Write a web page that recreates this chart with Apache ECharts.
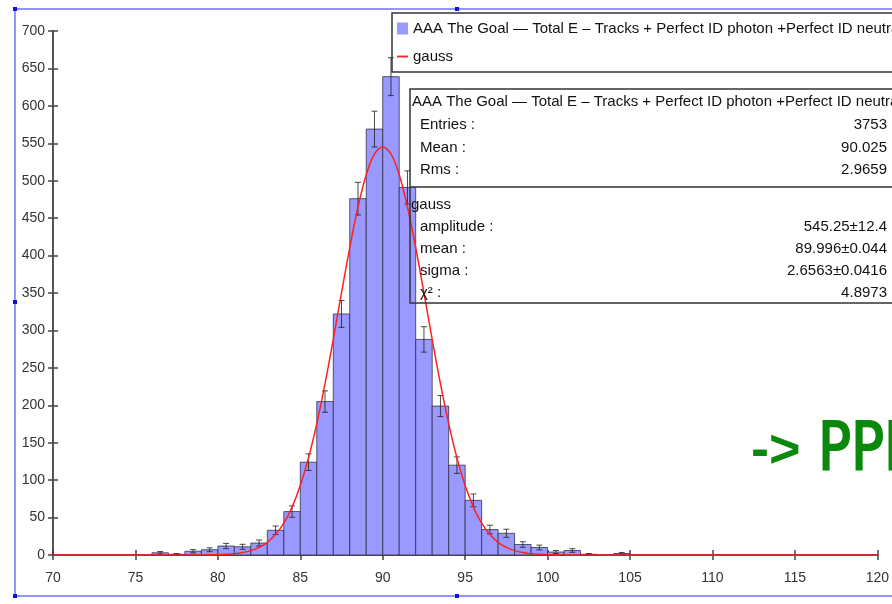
<!DOCTYPE html>
<html>
<head>
<meta charset="utf-8">
<script src="https://cdn.jsdelivr.net/npm/echarts@6/dist/echarts.min.js"></script>
<style>
  html, body { margin: 0; padding: 0; background: #fff; }
  #chart { width: 892px; height: 604px; }
</style>
</head>
<body>
<div id="chart"></div>
<script>
// histogram bins (lower edge, width 1)
const binLow = [76, 77, 78, 79, 80, 81, 82, 83, 84, 85, 86, 87, 88, 89, 90,
  91, 92, 93, 94, 95, 96, 97, 98, 99, 100, 101, 102, 103, 104];
const counts = [3, 1, 5, 7, 12, 11, 16, 33, 58, 124, 205, 322, 476, 569, 639,
  491, 288, 199, 120, 73, 34, 29, 14, 10, 4, 6, 1, 0, 2];
const errors = [1.7, 1, 2.2, 2.6, 3.5, 3.3, 4, 5.7, 7.6, 11.1, 14.3, 17.9, 21.8, 23.9, 25.3,
  22.2, 17, 14.1, 11, 8.5, 5.8, 5.4, 3.7, 3.2, 2, 2.4, 1, 0, 1.4];

// fitted gauss curve, sampled
const gaussX = [70, 76, 78, 79, 80, 80.5, 81, 81.5, 82, 82.5, 83, 83.5, 84, 84.5, 85,
  85.5, 86, 86.5, 87, 87.5, 88, 88.5, 89, 89.5, 90, 90.5, 91, 91.5, 92, 92.5, 93,
  93.5, 94, 94.5, 95, 95.5, 96, 96.5, 97, 97.5, 98, 98.5, 99, 99.5, 100, 101, 102, 104, 120];
const gaussY = [0, 0, 0, 0.1, 0.45, 0.9, 1.7, 3.3, 5.8, 10.1, 16.9, 27.3, 42.5, 63.9, 92.7,
  129.8, 175.5, 228.8, 288.1, 350.1, 410.7, 464.9, 508, 535.7, 545.3, 535.7, 508, 464.9, 410.7, 350.1, 288.1,
  228.8, 175.5, 129.8, 92.7, 63.9, 42.5, 27.3, 16.9, 10.1, 5.8, 3.3, 1.7, 0.9, 0.45, 0.1, 0, 0, 0];

const histName = "AAA The Goal \u2014 Total E \u2013 Tracks + Perfect ID photon +Perfect ID neutral hadrons";
const statTitle = "AAA The Goal \u2014 Total E \u2013 Tracks + Perfect ID photon +Perfect ID neutral hadrons";
const statLabels = ["Entries :", "Mean :", "Rms :"];
const statValues = ["3753", "90.025", "2.9659"];
const fitLabels = ["amplitude :", "mean :", "sigma :", "\u03c7\u00b2 :"];
const fitValues = ["545.25\u00b112.4", "89.996\u00b10.044", "2.6563\u00b10.0416", "4.8973"];

const font = "Liberation Sans";
const chart = echarts.init(document.getElementById("chart"));

const histData = binLow.map((lo, i) => [lo, lo + 1, counts[i], errors[i]]);
const gaussData = gaussX.map((x, i) => [x, gaussY[i]]);

// main axis with outside ticks + a twin with inside ticks, so ticks cross the line
function axisPair(isX) {
  const base = isX
    ? { type: "value", min: 70, max: 120, interval: 5, position: "bottom" }
    : { type: "value", min: 0, max: 700, interval: 50, position: "left" };
  const main = Object.assign({}, base, {
    axisLine: { show: true, lineStyle: { color: "#555", width: 2 } },
    axisTick: { show: true, inside: false, length: 5, lineStyle: { color: "#444", width: 1.5 } },
    axisLabel: { color: "#333", fontSize: 14, fontFamily: font, margin: isX ? 16 : 8 },
    splitLine: { show: false },
  });
  const inner = Object.assign({}, base, {
    axisLine: { show: false },
    axisTick: { show: true, inside: true, length: 5, lineStyle: { color: "#444", width: 1.5 } },
    axisLabel: { show: false },
    splitLine: { show: false },
  });
  return [main, inner];
}

const graphics = [];
// selection frame
const frameColor = "#7070ff";
graphics.push({ type: "line", shape: { x1: 15, y1: 9, x2: 892, y2: 9 }, style: { stroke: frameColor, lineWidth: 1.5 } });
graphics.push({ type: "line", shape: { x1: 15, y1: 9, x2: 15, y2: 596 }, style: { stroke: frameColor, lineWidth: 1.5 } });
graphics.push({ type: "line", shape: { x1: 15, y1: 596, x2: 892, y2: 596 }, style: { stroke: frameColor, lineWidth: 1.5 } });
[[15, 9], [457, 9], [15, 302], [15, 596], [457, 596]].forEach(([x, y]) => {
  graphics.push({ type: "rect", shape: { x: x - 2, y: y - 2, width: 4, height: 4 }, style: { fill: "#1010e0" } });
});

// stats box
const txt = "15px " + font;
graphics.push({ type: "rect", shape: { x: 410, y: 89, width: 600, height: 214 }, style: { fill: "none", stroke: "#333", lineWidth: 1.5 }, z: 10 });
graphics.push({ type: "line", shape: { x1: 410, y1: 187, x2: 892, y2: 187 }, style: { stroke: "#333", lineWidth: 1.5 }, z: 10 });
graphics.push({ type: "text", x: 412, y: 102, style: { text: statTitle, font: txt, fill: "#111", verticalAlign: "middle" }, z: 10 });
statLabels.forEach((t, i) => {
  const y = 125 + i * 22.5;
  graphics.push({ type: "text", x: 420, y: y, style: { text: t, font: txt, fill: "#111", verticalAlign: "middle" }, z: 10 });
  graphics.push({ type: "text", x: 887, y: y, style: { text: statValues[i], font: txt, fill: "#111", align: "right", verticalAlign: "middle" }, z: 10 });
});
graphics.push({ type: "text", x: 411, y: 205, style: { text: "gauss", font: txt, fill: "#111", verticalAlign: "middle" }, z: 10 });
fitLabels.forEach((t, i) => {
  const y = 227 + i * 22;
  graphics.push({ type: "text", x: 420, y: y, style: { text: t, font: txt, fill: "#111", verticalAlign: "middle" }, z: 10 });
  graphics.push({ type: "text", x: 887, y: y, style: { text: fitValues[i], font: txt, fill: "#111", align: "right", verticalAlign: "middle" }, z: 10 });
});

// handwritten note
const green = "#0c880c";
graphics.push({ type: "text", x: 751, y: 452, style: { text: "->", font: "bold 54px " + font, fill: green, verticalAlign: "middle" }, z: 10 });
graphics.push({ type: "text", x: 818, y: 452, scaleX: 0.83, style: { text: "PPP", font: "66px 'DejaVu Sans'", fill: green, stroke: green, lineWidth: 2, verticalAlign: "middle" }, z: 10 });

const option = {
  animation: false,
  backgroundColor: "#fff",
  textStyle: { fontFamily: font },
  grid: { left: 53, right: 10, top: 31, bottom: 49 },
  xAxis: axisPair(true),
  yAxis: axisPair(false),
  legend: {
    left: 392,
    top: 13,
    orient: "vertical",
    padding: [8, 600, 8, 5],
    itemGap: 13,
    itemWidth: 11,
    itemHeight: 12,
    borderColor: "#333",
    borderWidth: 1.5,
    selectedMode: false,
    textStyle: { fontSize: 15, color: "#111", fontFamily: font },
    data: [
      { name: histName, icon: "rect" },
      { name: "gauss", icon: "path://M0,5H12V7H0Z" },
    ],
  },
  graphic: graphics,
  series: [
    {
      name: histName,
      type: "custom",
      xAxisIndex: 0,
      yAxisIndex: 0,
      data: histData,
      encode: { x: [0, 1], y: 2 },
      itemStyle: { color: "#9999ff" },
      z: 2,
      renderItem: function (params, api) {
        if (api.value(2) <= 0) return null;
        const p0 = api.coord([api.value(0), 0]);
        const p1 = api.coord([api.value(1), api.value(2)]);
        return {
          type: "rect",
          shape: { x: p0[0], y: p1[1], width: p1[0] - p0[0], height: p0[1] - p1[1] },
          style: { fill: "#9999ff", stroke: "rgba(40,40,60,0.75)", lineWidth: 1 },
        };
      },
    },
    {
      name: "errors",
      type: "custom",
      xAxisIndex: 0,
      yAxisIndex: 0,
      data: histData,
      encode: { x: [0, 1], y: 2 },
      z: 3,
      renderItem: function (params, api) {
        const c = api.value(2), e = api.value(3);
        if (c <= 0) return null;
        const xm = (api.value(0) + api.value(1)) / 2;
        const top = api.coord([xm, c + e]);
        const bot = api.coord([xm, c - e]);
        const st = { stroke: "rgba(30,30,30,0.8)", lineWidth: 1 };
        return {
          type: "group",
          children: [
            { type: "line", shape: { x1: top[0], y1: top[1], x2: bot[0], y2: bot[1] }, style: st },
            { type: "line", shape: { x1: top[0] - 3, y1: top[1], x2: top[0] + 3, y2: top[1] }, style: st },
            { type: "line", shape: { x1: bot[0] - 3, y1: bot[1], x2: bot[0] + 3, y2: bot[1] }, style: st },
          ],
        };
      },
    },
    {
      name: "gauss",
      type: "line",
      xAxisIndex: 0,
      yAxisIndex: 0,
      data: gaussData,
      smooth: 0.3,
      showSymbol: false,
      symbol: "none",
      z: 4,
      itemStyle: { color: "#ff2020" },
      lineStyle: { color: "#ff2020", width: 1.5 },
    },
  ],
};

chart.setOption(option);
window.addEventListener("resize", () => chart.resize());
</script>
</body>
</html>
